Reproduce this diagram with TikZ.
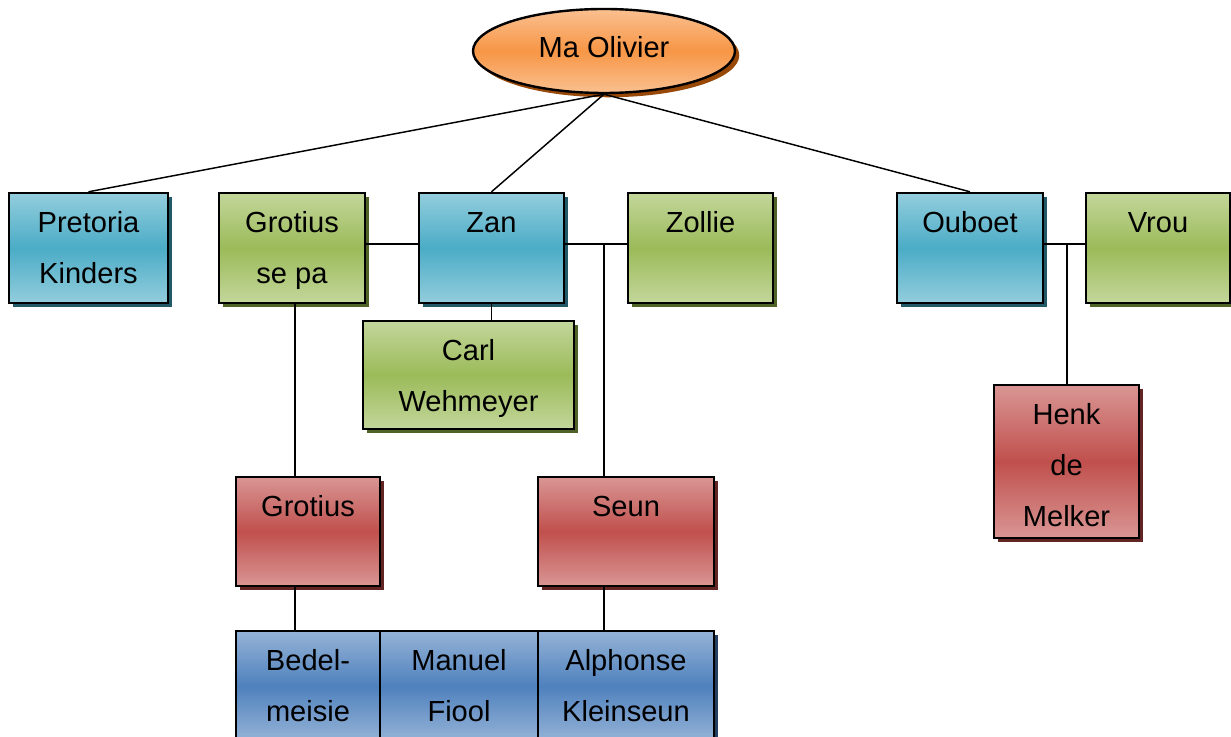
\documentclass[tikz,border=0pt]{standalone}
\usepackage{fontspec}
\setmainfont{Liberation Sans}
\usetikzlibrary{shapes.geometric,shadows}
\definecolor{bluL}{HTML}{93CDDD}
\definecolor{bluD}{HTML}{4BACC6}
\definecolor{bluS}{HTML}{215968}
\definecolor{grnL}{HTML}{C3D69B}
\definecolor{grnD}{HTML}{9BBB59}
\definecolor{grnS}{HTML}{4F6228}
\definecolor{redL}{HTML}{D99694}
\definecolor{redD}{HTML}{C0504D}
\definecolor{redS}{HTML}{632523}
\definecolor{nvyL}{HTML}{95B3D7}
\definecolor{nvyD}{HTML}{4F81BD}
\definecolor{nvyS}{HTML}{243F60}
\definecolor{orgL}{HTML}{FAC090}
\definecolor{orgD}{HTML}{F79646}
\definecolor{orgS}{HTML}{984807}
\newcommand\famstack[1]{\begin{tabular}[t]{@{}c@{}}#1\end{tabular}}
\newcommand\famnode[7]{%
  \node[#2, minimum width={(#5-#3)*0.75pt}, minimum height={(#6-#4)*0.75pt}] (#1) at ({(#3+#5)/2},{(#4+#6)/2}) {};
  \node[lbl] at ({(#3+#5)/2},{#4+39.5}) {\famstack{#7}};
}
\begin{document}
\begin{tikzpicture}[x=0.75pt,y=-0.75pt,
  fam/.style={rectangle, draw=black, line width=1.8pt, inner sep=0pt},
  shad/.style={drop shadow={shadow xshift=3.2pt, shadow yshift=-3.2pt, fill=#1, opacity=1}},
  blu/.style={fam, top color=bluL, bottom color=bluL, middle color=bluD, shad=bluS},
  grn/.style={fam, top color=grnL, bottom color=grnL, middle color=grnD, shad=grnS},
  red/.style={fam, top color=redL, bottom color=redL, middle color=redD, shad=redS},
  nvy/.style={fam, top color=nvyL, bottom color=nvyL, middle color=nvyD, shad=nvyS},
  ell/.style={ellipse, draw=black, line width=1.8pt, inner sep=0pt, top color=orgL, bottom color=orgL, middle color=orgD, shad=orgS},
  lbl/.style={anchor=base, inner sep=0pt, font=\fontsize{21.8pt}{38.2pt}\selectfont},
  conn/.style={draw=black, line width=1.1pt}]
\useasboundingbox (0,0) rectangle (1231,737);

\node[ell, minimum width={262*0.75pt}, minimum height={84*0.75pt}] (ma) at (604,51) {};
\node[lbl] at (604,58) {Ma Olivier};

\famnode{pk}{blu}{9}{193}{168}{303}{Pretoria\\Kinders}
\famnode{gsp}{grn}{219}{193}{365}{303}{Grotius\\se pa}
\famnode{zan}{blu}{419}{193}{564}{303}{Zan}
\famnode{zol}{grn}{628}{193}{773}{303}{Zollie}
\famnode{oub}{blu}{897}{193}{1043}{303}{Ouboet}
\famnode{vrou}{grn}{1086}{193}{1230}{303}{Vrou}
\famnode{carl}{grn}{363}{321}{574}{429}{Carl\\Wehmeyer}
\famnode{henk}{red}{994}{385}{1139}{538}{Henk\\de\\Melker}
\famnode{gr}{red}{236}{477}{380}{586}{Grotius}
\famnode{seun}{red}{538}{477}{714}{586}{Seun}
\famnode{bed}{nvy}{236}{631}{380}{741}{Bedel-\\meisie}
\famnode{man}{nvy}{380}{631}{538}{741}{Manuel\\Fiool}
\famnode{alph}{nvy}{538}{631}{714}{741}{Alphonse\\Kleinseun}

\coordinate (j1) at (604,244);
\coordinate (j2) at (295,244);
\coordinate (j3) at (1067,244);

\draw[conn] (ma.south) -- (pk.north);
\draw[conn] (ma.south) -- (zan.north);
\draw[conn] (ma.south) -- (oub.north);
\draw[conn] (gsp.east |- j2) -- (zan.west |- j2);
\draw[conn] (zan.east |- j1) -- (zol.west |- j1);
\draw[conn] (j1) -- (j1 |- seun.north);
\draw[conn] (j1 |- seun.south) -- (j1 |- alph.north);
\draw[conn] (zan.south) -- (zan.south |- carl.north);
\draw[conn] (j2 |- gsp.south) -- (j2 |- gr.north);
\draw[conn] (j2 |- gr.south) -- (j2 |- bed.north);
\draw[conn] (oub.east |- j3) -- (vrou.west |- j3);
\draw[conn] (j3) -- (j3 |- henk.north);
\end{tikzpicture}
\end{document}
